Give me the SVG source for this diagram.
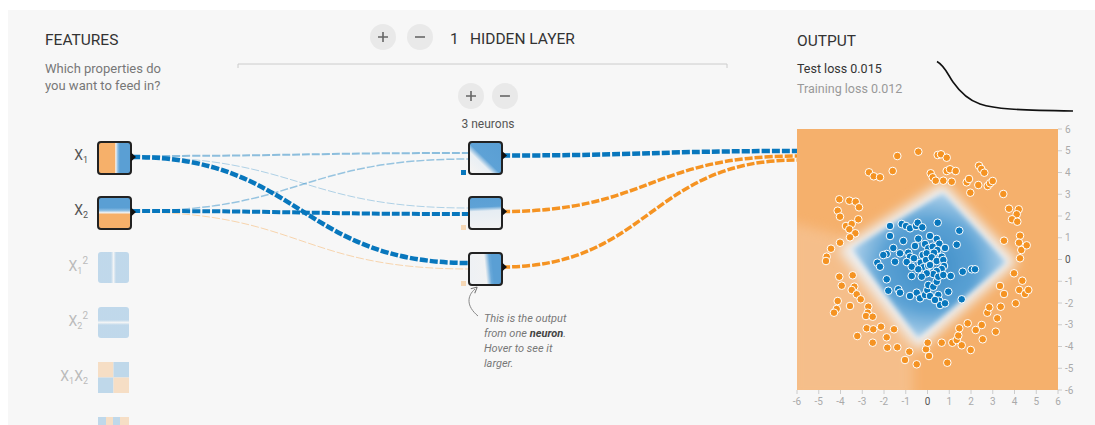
<svg xmlns="http://www.w3.org/2000/svg" width="1095" height="425" viewBox="0 0 1095 425">
<style>
text{font-family:Roboto,"Liberation Sans",sans-serif}
.h{font-size:15.5px;fill:#333}
.sub{font-size:13px;fill:#777}
.lbl{font-size:14px;fill:#555}
.flbl{font-size:14px;fill:#bbb}
.ax{font-size:10px;fill:#aaa}
.ax0{font-size:10px;fill:#555}
.tick{stroke:#ccc;stroke-width:1}
.btn{fill:#e9e9e9}
.sym{stroke:#666;stroke-width:1.6;fill:none}
.nb{fill:none;stroke:#222;stroke-width:2}
.mk{fill:#111}
.lk{fill:none;stroke-dasharray:8 2}
.b{fill:#0877bd;stroke:#fff;stroke-width:1}
.o{fill:#f59322;stroke:#fff;stroke-width:1}
.note{font-size:11px;fill:#777;font-style:italic}
</style>
<defs>
<linearGradient id="gX1" x1="0" y1="0" x2="1" y2="0"><stop offset="0" stop-color="#f6b06a"/><stop offset="0.5" stop-color="#f6b06a"/><stop offset="0.54" stop-color="#f1f1f1"/><stop offset="0.6" stop-color="#8cbde3"/><stop offset="0.66" stop-color="#5a9fd4"/><stop offset="1" stop-color="#5a9fd4"/></linearGradient>
<linearGradient id="gX2" x1="0" y1="0" x2="0" y2="1"><stop offset="0" stop-color="#5a9fd4"/><stop offset="0.34" stop-color="#5a9fd4"/><stop offset="0.42" stop-color="#8cbde3"/><stop offset="0.49" stop-color="#f1f1f1"/><stop offset="0.54" stop-color="#f6b06a"/><stop offset="1" stop-color="#f6b06a"/></linearGradient>
<linearGradient id="gSqX" x1="0" y1="0" x2="1" y2="0"><stop offset="0" stop-color="#5a9fd4"/><stop offset="0.42" stop-color="#5a9fd4"/><stop offset="0.5" stop-color="#e8eef3"/><stop offset="0.58" stop-color="#5a9fd4"/><stop offset="1" stop-color="#5a9fd4"/></linearGradient>
<linearGradient id="gSqY" x1="0" y1="0" x2="0" y2="1"><stop offset="0" stop-color="#5a9fd4"/><stop offset="0.42" stop-color="#5a9fd4"/><stop offset="0.5" stop-color="#e8eef3"/><stop offset="0.58" stop-color="#5a9fd4"/><stop offset="1" stop-color="#5a9fd4"/></linearGradient>
<linearGradient id="gN1" x1="0.9" y1="0.1" x2="0.1" y2="0.9"><stop offset="0" stop-color="#5a9fd4"/><stop offset="0.52" stop-color="#5ea2d6"/><stop offset="0.68" stop-color="#e9eff4"/><stop offset="1" stop-color="#f3f3f3"/></linearGradient>
<linearGradient id="gN2" x1="0" y1="0" x2="0.05" y2="1"><stop offset="0" stop-color="#5a9fd4"/><stop offset="0.33" stop-color="#5ea2d6"/><stop offset="0.46" stop-color="#e6edf3"/><stop offset="1" stop-color="#f1f2f3"/></linearGradient>
<linearGradient id="gN3" x1="0" y1="0.1" x2="1" y2="0"><stop offset="0" stop-color="#eef1f4"/><stop offset="0.45" stop-color="#f1f2f3"/><stop offset="0.6" stop-color="#6aa9d9"/><stop offset="0.68" stop-color="#5a9fd4"/><stop offset="1" stop-color="#5a9fd4"/></linearGradient>
<radialGradient id="gBlue" cx="0.5" cy="0.5" r="0.55"><stop offset="0" stop-color="#3f8dc7"/><stop offset="0.55" stop-color="#5aa1d4"/><stop offset="0.85" stop-color="#9fc8e6"/><stop offset="1" stop-color="#e3eef6"/></radialGradient>
<filter id="blur6" x="-20%" y="-20%" width="140%" height="140%"><feGaussianBlur stdDeviation="6"/></filter>
<filter id="blur3" x="-20%" y="-20%" width="140%" height="140%"><feGaussianBlur stdDeviation="2.5"/></filter>
<clipPath id="plotClip"><rect x="797" y="129" width="261" height="261"/></clipPath>
<marker id="ah" markerWidth="8" markerHeight="8" refX="4" refY="4" orient="auto" markerUnits="userSpaceOnUse"><path d="M7,4 L1,1 M7,4 L1,7" stroke="#777" stroke-width="1" fill="none"/></marker>
</defs>

<rect x="0" y="0" width="1095" height="425" fill="#ffffff"/>
<rect x="8" y="10" width="1087" height="415" fill="#f7f7f7"/>

<!-- headers -->
<g id="features-header">
<text class="h" x="45" y="45">FEATURES</text>
<text class="sub" x="45" y="73">Which properties do</text>
<text class="sub" x="45" y="90">you want to feed in?</text>
</g>
<g id="hidden-header">
<circle class="btn" cx="383" cy="37" r="13"/><path class="sym" d="M378,37 H388 M383,32 V42"/>
<circle class="btn" cx="420" cy="37" r="13"/><path class="sym" d="M415,37 H425"/>
<text class="h" x="450" y="43.5">1</text>
<text class="h" x="470" y="43.5">HIDDEN LAYER</text>
<path d="M238,68 V64 H727 V68" fill="none" stroke="#ccc" stroke-width="1"/>
</g>
<g id="neuron-controls">
<circle class="btn" cx="471" cy="96" r="13"/><path class="sym" d="M466,96 H476 M471,91 V101"/>
<circle class="btn" cx="505" cy="96" r="13"/><path class="sym" d="M500,96 H510"/>
<text x="488" y="128" text-anchor="middle" font-size="12" fill="#555">3 neurons</text>
</g>
<g id="output-header">
<text class="h" x="797" y="46">OUTPUT</text>
<text x="797" y="73" font-size="12.5" fill="#333">Test loss 0.015</text>
<text x="797" y="93" font-size="12.5" fill="#999">Training loss 0.012</text>
<path d="M937,61.5 C945,66 948,75 953,82 C960,92 968,100 980,104 C995,109 1015,110 1073,111" fill="none" stroke="#111" stroke-width="1.6"/>
</g>

<!-- connectors -->
<g id="connectors">
<path class="lk" d="M132,156 C300.5,156 300.5,153 469,153" stroke="#0877bd" stroke-width="2" stroke-opacity="0.45"/>
<path class="lk" d="M132,157 C300.5,157 300.5,208 469,208" stroke="#0877bd" stroke-width="1" stroke-opacity="0.3"/>
<path class="lk" d="M132,211 C300.5,211 300.5,159 469,159" stroke="#0877bd" stroke-width="1.5" stroke-opacity="0.4"/>
<path class="lk" d="M132,212 C300.5,212 300.5,269 469,269" stroke="#f59322" stroke-width="1" stroke-opacity="0.35"/>
<path class="lk" d="M132,211 C300.5,211 300.5,214 469,214" stroke="#0877bd" stroke-width="4"/>
<path class="lk" d="M132,157 C300.5,157 300.5,263 469,263" stroke="#0877bd" stroke-width="4.5"/>
<path class="lk" d="M502,211.5 C649.5,211.5 649.5,156 797,156" stroke="#f59322" stroke-width="3.5"/>
<path class="lk" d="M502,267 C649.5,267 649.5,160 797,160" stroke="#f59322" stroke-width="3.5"/>
<path class="lk" d="M502,155.5 C649.5,155.5 649.5,151 797,151" stroke="#0877bd" stroke-width="4.5"/>
</g>

<!-- input nodes -->
<g id="node-x1">
<text class="lbl" x="88" y="160" text-anchor="end">X<tspan font-size="9" dy="3">1</tspan></text>
<rect x="98" y="142" width="33" height="32" rx="3" fill="url(#gX1)"/>
<rect class="nb" x="98" y="142" width="33" height="32" rx="3"/>
<polygon class="mk" points="131,152.5 136,157 131,161.5"/>
</g>
<g id="node-x2">
<text class="lbl" x="88" y="215" text-anchor="end">X<tspan font-size="9" dy="3">2</tspan></text>
<rect x="98" y="197" width="33" height="32" rx="3" fill="url(#gX2)"/>
<rect class="nb" x="98" y="197" width="33" height="32" rx="3"/>
<polygon class="mk" points="131,207.5 136,212 131,216.5"/>
</g>
<g id="node-x1sq">
<text class="flbl" x="88" y="271" text-anchor="end">X<tspan font-size="9" dy="3">1</tspan><tspan font-size="10" dy="-10">2</tspan></text>
<rect x="98" y="252" width="31" height="31" rx="3" fill="url(#gSqX)" opacity="0.35"/>
</g>
<g id="node-x2sq">
<text class="flbl" x="88" y="326" text-anchor="end">X<tspan font-size="9" dy="3">2</tspan><tspan font-size="10" dy="-10">2</tspan></text>
<rect x="98" y="307" width="31" height="31" rx="3" fill="url(#gSqY)" opacity="0.35"/>
</g>
<g id="node-x1x2">
<text class="flbl" x="88" y="381" text-anchor="end">X<tspan font-size="9" dy="3">1</tspan><tspan dy="-3">X</tspan><tspan font-size="9" dy="3">2</tspan></text>
<g opacity="0.35">
<rect x="98" y="362" width="15.5" height="15.5" fill="#f6b06a"/>
<rect x="113.5" y="362" width="15.5" height="15.5" fill="#5a9fd4"/>
<rect x="98" y="377.5" width="15.5" height="15.5" fill="#5a9fd4"/>
<rect x="113.5" y="377.5" width="15.5" height="15.5" fill="#f6b06a"/>
</g>
</g>
<g id="node-sinx1" opacity="0.35">
<rect x="98" y="417" width="8" height="20" fill="#5a9fd4"/>
<rect x="106" y="417" width="7" height="20" fill="#f6b06a"/>
<rect x="113" y="417" width="7" height="20" fill="#5a9fd4"/>
<rect x="120" y="417" width="9" height="20" fill="#f6b06a"/>
</g>

<!-- hidden neurons -->
<g id="neuron-1">
<rect x="461" y="170" width="5" height="5" fill="#0877bd"/>
<rect x="469" y="142" width="33" height="32" rx="3" fill="url(#gN1)"/>
<rect class="nb" x="469" y="142" width="33" height="32" rx="3"/>
<polygon class="mk" points="502,151 507,155.5 502,160"/>
</g>
<g id="neuron-2">
<rect x="461" y="225" width="5" height="5" fill="#f59322" opacity="0.3"/>
<rect x="469" y="197" width="33" height="32" rx="3" fill="url(#gN2)"/>
<rect class="nb" x="469" y="197" width="33" height="32" rx="3"/>
<polygon class="mk" points="502,207 507,211.5 502,216"/>
</g>
<g id="neuron-3">
<rect x="461" y="281" width="5" height="5" fill="#f59322" opacity="0.3"/>
<rect x="469" y="253" width="33" height="32" rx="3" fill="url(#gN3)"/>
<rect class="nb" x="469" y="253" width="33" height="32" rx="3"/>
<polygon class="mk" points="502,262.5 507,267 502,271.5"/>
</g>

<!-- annotation -->
<g id="annotation">
<path d="M478,316 C466,306 467,296 475,289" fill="none" stroke="#888" stroke-width="1" marker-end="url(#ah)"/>
<text class="note" x="484" y="322">This is the output</text>
<text class="note" x="484" y="337">from one <tspan font-weight="bold" fill="#444">neuron</tspan>.</text>
<text class="note" x="484" y="352">Hover to see it</text>
<text class="note" x="484" y="367">larger.</text>
</g>

<!-- output plot -->
<g id="output-plot">
<g clip-path="url(#plotClip)">
<rect x="797" y="129" width="261" height="261" fill="#f5b06c"/>
<polygon points="790,222 850,238 913,320 913,400 790,400" fill="#f6c292" filter="url(#blur6)" opacity="0.8"/>
<polygon points="943,182 1018,262 918,351 838,249" fill="#eef0f2" filter="url(#blur6)"/>
<polygon points="943,193 1006,262 918,338 852,249" fill="url(#gBlue)" filter="url(#blur3)"/>
</g>
<g id="points-orange">
<circle class="o" cx="897.3" cy="156" r="3.8"/><circle class="o" cx="918.3" cy="151.7" r="3.8"/><circle class="o" cx="937.7" cy="155" r="3.8"/><circle class="o" cx="941" cy="154.3" r="3.8"/><circle class="o" cx="946.7" cy="157.7" r="3.8"/>
<circle class="o" cx="869" cy="172.3" r="3.8"/><circle class="o" cx="873.7" cy="176.3" r="3.8"/><circle class="o" cx="880" cy="177.3" r="3.8"/><circle class="o" cx="892.7" cy="171" r="3.8"/>
<circle class="o" cx="930.7" cy="173.3" r="3.8"/><circle class="o" cx="932.7" cy="177.3" r="3.8"/><circle class="o" cx="935.7" cy="180.7" r="3.8"/><circle class="o" cx="943.3" cy="180.7" r="3.8"/><circle class="o" cx="946.7" cy="171" r="3.8"/><circle class="o" cx="950" cy="169.3" r="3.8"/><circle class="o" cx="955.7" cy="171" r="3.8"/><circle class="o" cx="951.7" cy="181.7" r="3.8"/>
<circle class="o" cx="966.7" cy="182.3" r="3.8"/><circle class="o" cx="969" cy="179" r="3.8"/><circle class="o" cx="970.3" cy="192.7" r="3.8"/><circle class="o" cx="978.3" cy="185" r="3.8"/><circle class="o" cx="979" cy="165.7" r="3.8"/><circle class="o" cx="981.3" cy="169" r="3.8"/><circle class="o" cx="984.3" cy="172.7" r="3.8"/><circle class="o" cx="987.7" cy="186" r="3.8"/><circle class="o" cx="990" cy="183.3" r="3.8"/><circle class="o" cx="992.7" cy="181" r="3.8"/>
<circle class="o" cx="1003.3" cy="194" r="3.8"/><circle class="o" cx="1009" cy="208.7" r="3.8"/><circle class="o" cx="1018.7" cy="209.3" r="3.8"/><circle class="o" cx="1016.7" cy="214.3" r="3.8"/><circle class="o" cx="1012" cy="219.3" r="3.8"/><circle class="o" cx="1017.3" cy="221.7" r="3.8"/>
<circle class="o" cx="1004" cy="240.7" r="3.8"/><circle class="o" cx="1020" cy="235.7" r="3.8"/><circle class="o" cx="1019" cy="242.7" r="3.8"/><circle class="o" cx="1021.3" cy="250" r="3.8"/><circle class="o" cx="1026.7" cy="245.3" r="3.8"/><circle class="o" cx="1020" cy="258.3" r="3.8"/>
<circle class="o" cx="839.3" cy="199.3" r="3.8"/><circle class="o" cx="849.3" cy="200.7" r="3.8"/><circle class="o" cx="855.7" cy="201.7" r="3.8"/><circle class="o" cx="859" cy="207.3" r="3.8"/><circle class="o" cx="837.7" cy="210.7" r="3.8"/><circle class="o" cx="840" cy="216.7" r="3.8"/><circle class="o" cx="858.3" cy="219.3" r="3.8"/><circle class="o" cx="846" cy="226" r="3.8"/><circle class="o" cx="851.7" cy="224" r="3.8"/><circle class="o" cx="849.3" cy="229.3" r="3.8"/><circle class="o" cx="855.3" cy="233.3" r="3.8"/><circle class="o" cx="850" cy="237.3" r="3.8"/><circle class="o" cx="840" cy="242.7" r="3.8"/><circle class="o" cx="831" cy="248.7" r="3.8"/><circle class="o" cx="826.7" cy="256.7" r="3.8"/><circle class="o" cx="826" cy="261" r="3.8"/>
<circle class="o" cx="839.3" cy="276.7" r="3.8"/><circle class="o" cx="852.7" cy="275.3" r="3.8"/><circle class="o" cx="841.7" cy="285.7" r="3.8"/><circle class="o" cx="854.3" cy="286.7" r="3.8"/><circle class="o" cx="851.7" cy="290" r="3.8"/><circle class="o" cx="856.7" cy="294.3" r="3.8"/><circle class="o" cx="860.7" cy="299.3" r="3.8"/><circle class="o" cx="837.7" cy="301" r="3.8"/><circle class="o" cx="836.7" cy="309" r="3.8"/><circle class="o" cx="834" cy="312.7" r="3.8"/><circle class="o" cx="850" cy="306" r="3.8"/>
<circle class="o" cx="868.3" cy="306.7" r="3.8"/><circle class="o" cx="867.7" cy="312.7" r="3.8"/><circle class="o" cx="866" cy="316" r="3.8"/><circle class="o" cx="872.7" cy="316.7" r="3.8"/><circle class="o" cx="881" cy="326.7" r="3.8"/><circle class="o" cx="866.7" cy="328.3" r="3.8"/><circle class="o" cx="873.3" cy="329.3" r="3.8"/><circle class="o" cx="894" cy="329.3" r="3.8"/><circle class="o" cx="886.7" cy="337.3" r="3.8"/><circle class="o" cx="872.7" cy="342.7" r="3.8"/><circle class="o" cx="887.3" cy="347.7" r="3.8"/><circle class="o" cx="897.3" cy="347.3" r="3.8"/><circle class="o" cx="857.3" cy="336" r="3.8"/>
<circle class="o" cx="909.3" cy="351.7" r="3.8"/><circle class="o" cx="905" cy="360" r="3.8"/><circle class="o" cx="916.7" cy="364.3" r="3.8"/><circle class="o" cx="926" cy="349.3" r="3.8"/><circle class="o" cx="927.7" cy="342.7" r="3.8"/><circle class="o" cx="929" cy="356" r="3.8"/><circle class="o" cx="941.7" cy="342.7" r="3.8"/><circle class="o" cx="947.3" cy="362.7" r="3.8"/><circle class="o" cx="952.3" cy="342.7" r="3.8"/><circle class="o" cx="956.7" cy="340" r="3.8"/><circle class="o" cx="958.3" cy="335.5" r="3.8"/><circle class="o" cx="959.3" cy="328.3" r="3.8"/><circle class="o" cx="961.7" cy="345.3" r="3.8"/>
<circle class="o" cx="967.7" cy="323.3" r="3.8"/><circle class="o" cx="970.7" cy="350" r="3.8"/><circle class="o" cx="975.7" cy="330" r="3.8"/><circle class="o" cx="981.7" cy="325" r="3.8"/><circle class="o" cx="982.7" cy="339.3" r="3.8"/><circle class="o" cx="987.3" cy="312.7" r="3.8"/><circle class="o" cx="989.3" cy="307.3" r="3.8"/><circle class="o" cx="997.3" cy="318.3" r="3.8"/><circle class="o" cx="995.7" cy="331.7" r="3.8"/><circle class="o" cx="1000.7" cy="306.7" r="3.8"/>
<circle class="o" cx="1000" cy="286" r="3.8"/><circle class="o" cx="1004" cy="294" r="3.8"/><circle class="o" cx="1014" cy="273.3" r="3.8"/><circle class="o" cx="1015.7" cy="303.3" r="3.8"/><circle class="o" cx="1019.3" cy="290" r="3.8"/><circle class="o" cx="1022.3" cy="280.7" r="3.8"/><circle class="o" cx="1025" cy="294" r="3.8"/><circle class="o" cx="1028.3" cy="290" r="3.8"/>
</g>
<g id="points-blue">
<circle class="b" cx="890" cy="226" r="3.8"/><circle class="b" cx="890" cy="236" r="3.8"/><circle class="b" cx="901.7" cy="224" r="3.8"/><circle class="b" cx="906" cy="226" r="3.8"/><circle class="b" cx="910" cy="228.3" r="3.8"/><circle class="b" cx="916" cy="226" r="3.8"/><circle class="b" cx="917.7" cy="222.7" r="3.8"/><circle class="b" cx="922.3" cy="227.3" r="3.8"/><circle class="b" cx="937.7" cy="222.7" r="3.8"/><circle class="b" cx="959.3" cy="230.7" r="3.8"/><circle class="b" cx="956.7" cy="244.7" r="3.8"/>
<circle class="b" cx="903.3" cy="241" r="3.8"/><circle class="b" cx="918.3" cy="238.7" r="3.8"/><circle class="b" cx="930" cy="236" r="3.8"/><circle class="b" cx="936.7" cy="239" r="3.8"/><circle class="b" cx="939.3" cy="243.7" r="3.8"/><circle class="b" cx="945" cy="248" r="3.8"/><circle class="b" cx="925" cy="244" r="3.8"/><circle class="b" cx="915" cy="246" r="3.8"/><circle class="b" cx="928.3" cy="248.3" r="3.8"/><circle class="b" cx="932.7" cy="246.7" r="3.8"/><circle class="b" cx="937.3" cy="250" r="3.8"/><circle class="b" cx="893.3" cy="248" r="3.8"/>
<circle class="b" cx="886.7" cy="254" r="3.8"/><circle class="b" cx="883.3" cy="255" r="3.8"/><circle class="b" cx="900" cy="253.3" r="3.8"/><circle class="b" cx="908.3" cy="252.7" r="3.8"/><circle class="b" cx="910" cy="256.7" r="3.8"/><circle class="b" cx="922.7" cy="255" r="3.8"/><circle class="b" cx="926.7" cy="253.3" r="3.8"/><circle class="b" cx="934" cy="252.7" r="3.8"/><circle class="b" cx="941.7" cy="256.7" r="3.8"/>
<circle class="b" cx="877.3" cy="262.7" r="3.8"/><circle class="b" cx="880" cy="266.7" r="3.8"/><circle class="b" cx="895" cy="261.7" r="3.8"/><circle class="b" cx="906.7" cy="262" r="3.8"/><circle class="b" cx="914" cy="258.3" r="3.8"/><circle class="b" cx="920.7" cy="262.7" r="3.8"/><circle class="b" cx="926" cy="260" r="3.8"/><circle class="b" cx="931.7" cy="257.3" r="3.8"/><circle class="b" cx="936.7" cy="261" r="3.8"/><circle class="b" cx="943.3" cy="260" r="3.8"/><circle class="b" cx="944" cy="266" r="3.8"/><circle class="b" cx="941.7" cy="269" r="3.8"/><circle class="b" cx="923.3" cy="267.3" r="3.8"/><circle class="b" cx="928.3" cy="266" r="3.8"/>
<circle class="b" cx="911.7" cy="266.7" r="3.8"/><circle class="b" cx="918.3" cy="269.3" r="3.8"/><circle class="b" cx="930" cy="265" r="3.8"/><circle class="b" cx="936.7" cy="271" r="3.8"/><circle class="b" cx="933.3" cy="274" r="3.8"/><circle class="b" cx="926.7" cy="273.3" r="3.8"/><circle class="b" cx="921.7" cy="276.7" r="3.8"/><circle class="b" cx="911.7" cy="276" r="3.8"/><circle class="b" cx="886.7" cy="279.3" r="3.8"/>
<circle class="b" cx="888.3" cy="290.7" r="3.8"/><circle class="b" cx="898.3" cy="289.3" r="3.8"/><circle class="b" cx="900" cy="292.7" r="3.8"/><circle class="b" cx="910" cy="296" r="3.8"/><circle class="b" cx="916.7" cy="292.7" r="3.8"/><circle class="b" cx="920" cy="298.3" r="3.8"/><circle class="b" cx="925" cy="295" r="3.8"/><circle class="b" cx="927.3" cy="290" r="3.8"/><circle class="b" cx="928.3" cy="285" r="3.8"/><circle class="b" cx="933.3" cy="286.7" r="3.8"/><circle class="b" cx="936.7" cy="281.7" r="3.8"/><circle class="b" cx="938.3" cy="276.7" r="3.8"/><circle class="b" cx="943.3" cy="275" r="3.8"/>
<circle class="b" cx="938.3" cy="295" r="3.8"/><circle class="b" cx="939.3" cy="300.7" r="3.8"/><circle class="b" cx="940" cy="305" r="3.8"/><circle class="b" cx="945" cy="303.3" r="3.8"/><circle class="b" cx="930" cy="296" r="3.8"/><circle class="b" cx="950.7" cy="276" r="3.8"/><circle class="b" cx="948.3" cy="291.7" r="3.8"/><circle class="b" cx="961.7" cy="299.3" r="3.8"/><circle class="b" cx="962.7" cy="271.7" r="3.8"/><circle class="b" cx="971.7" cy="269.3" r="3.8"/><circle class="b" cx="975" cy="269.3" r="3.8"/><circle class="b" cx="935" cy="300" r="3.8"/>
</g>
<g id="axes">
<path class="tick" d="M1058,129 h4 M1058,150.75 h4 M1058,172.5 h4 M1058,194.25 h4 M1058,216 h4 M1058,237.75 h4 M1058,259.5 h4 M1058,281.25 h4 M1058,303 h4 M1058,324.75 h4 M1058,346.5 h4 M1058,368.25 h4 M1058,390 h4"/>
<path class="tick" d="M797,390 v4 M818.75,390 v4 M840.5,390 v4 M862.25,390 v4 M884,390 v4 M905.75,390 v4 M927.5,390 v4 M949.25,390 v4 M971,390 v4 M992.75,390 v4 M1014.5,390 v4 M1036.25,390 v4 M1058,390 v4"/>
<text class="ax" x="1065" y="132.5">6</text><text class="ax" x="1065" y="154.3">5</text><text class="ax" x="1065" y="176">4</text><text class="ax" x="1065" y="197.8">3</text><text class="ax" x="1065" y="219.5">2</text><text class="ax" x="1065" y="241.3">1</text><text class="ax0" x="1065" y="263">0</text><text class="ax" x="1065" y="284.8">-1</text><text class="ax" x="1065" y="306.5">-2</text><text class="ax" x="1065" y="328.3">-3</text><text class="ax" x="1065" y="350">-4</text><text class="ax" x="1065" y="371.8">-5</text><text class="ax" x="1065" y="393.5">-6</text>
<g text-anchor="middle"><text class="ax" x="797" y="405">-6</text><text class="ax" x="818.75" y="405">-5</text><text class="ax" x="840.5" y="405">-4</text><text class="ax" x="862.25" y="405">-3</text><text class="ax" x="884" y="405">-2</text><text class="ax" x="905.75" y="405">-1</text><text class="ax0" x="927.5" y="405">0</text><text class="ax" x="949.25" y="405">1</text><text class="ax" x="971" y="405">2</text><text class="ax" x="992.75" y="405">3</text><text class="ax" x="1014.5" y="405">4</text><text class="ax" x="1036.25" y="405">5</text><text class="ax" x="1058" y="405">6</text></g>
</g>
</g>
</svg>
